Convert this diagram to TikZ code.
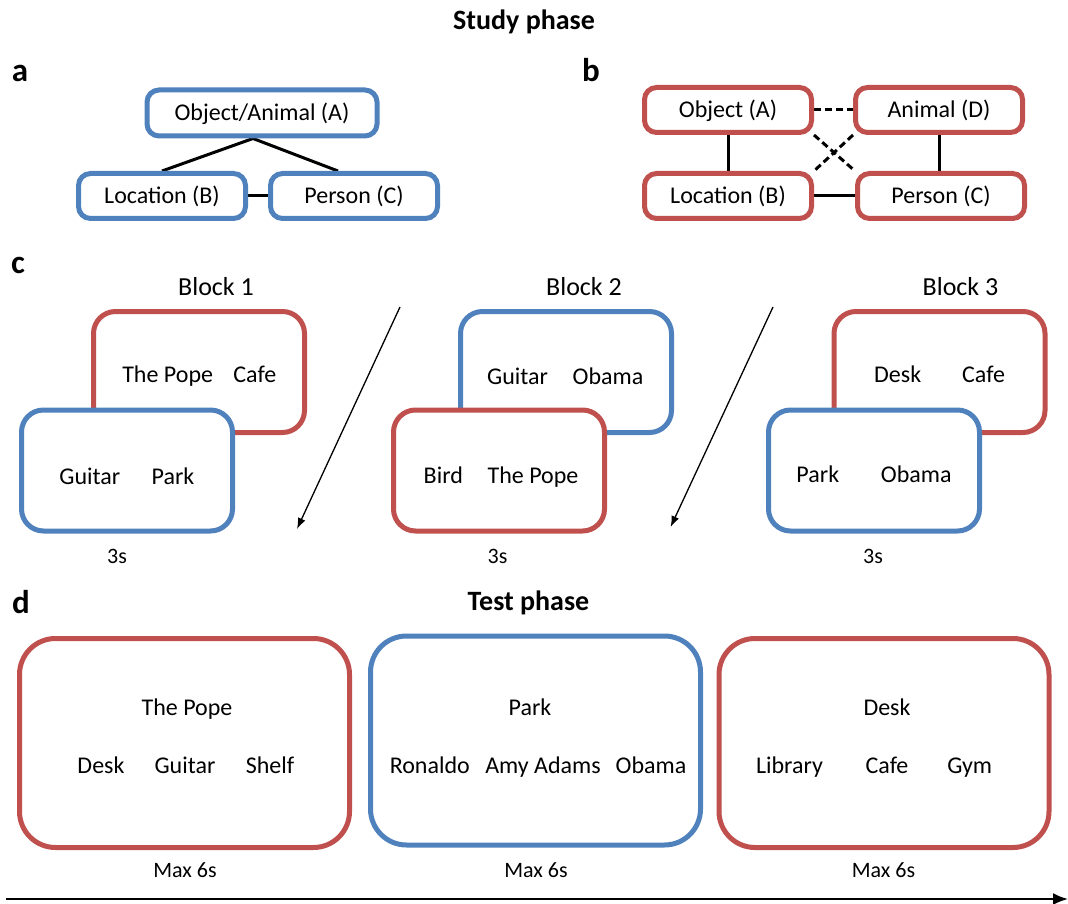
\documentclass[tikz,border=0pt]{standalone}
\usepackage{fontspec}
\setmainfont{Carlito}
\usetikzlibrary{arrows.meta,calc,backgrounds}
\definecolor{oblue}{HTML}{4F81BD}
\definecolor{ored}{HTML}{C0504D}
\tikzset{
  sbox/.style={draw, line width=5pt, rounded corners=12pt, fill=white,
    minimum width=167pt, minimum height=45pt, inner sep=0pt,
    font=\fontsize{24}{28}\selectfont, text height=15pt, text depth=0pt},
  bbox/.style={draw, line width=5pt, rounded corners=22pt, fill=white,
    minimum width=211pt, minimum height=121pt, inner sep=0pt},
  tbox/.style={draw, line width=5pt, rounded corners=36pt, fill=white,
    minimum width=330pt, minimum height=209pt, inner sep=0pt},
  word/.style={font=\fontsize{24}{28}\selectfont, inner sep=0pt, anchor=base},
  small/.style={font=\fontsize{22}{25}\selectfont, inner sep=0pt, anchor=base},
  blocklabel/.style={font=\fontsize{26}{30}\selectfont, inner sep=0pt, anchor=base},
  title/.style={font=\bfseries\fontsize{28}{32}\selectfont, inner sep=0pt, anchor=base},
  letter/.style={font=\bfseries\fontsize{33}{36}\selectfont, inner sep=0pt, anchor=base},
  link/.style={line width=3pt},
  dlink/.style={line width=3pt, dash pattern=on 7pt off 4pt},
  thinarrow/.style={line width=1.3pt, -{Latex[length=11pt,width=8pt]}},
  timearrow/.style={line width=2pt, -{Latex[length=15pt,width=12pt]}}
}
\begin{document}
\begin{tikzpicture}[x=1pt,y=-1pt]
\useasboundingbox (0,0) rectangle (1068,904);

% titles and panel letters
\node[title] (study) at (524,29.3) {Study phase};
\node[title] (test) at (528.5,610.7) {Test phase};
\node[letter] (la) at (20,82) {a};
\node[letter] (lb) at (591,81.7) {b};
\node[letter] (lc) at (18,273) {c};
\node[letter] (ld) at (21,613) {d};

% panel a
\node[sbox, draw=oblue, minimum width=230pt, minimum height=46pt] (aA) at (262,113) {Object/Animal (A)};
\node[sbox, draw=oblue] (aB) at (162,196) {Location (B)};
\node[sbox, draw=oblue] (aC) at (354,196) {Person (C)};

% panel b
\node[sbox, draw=ored] (bA) at (728,110) {Object (A)};
\node[sbox, draw=ored] (bD) at (939,110) {Animal (D)};
\node[sbox, draw=ored] (bB) at (728,196) {Location (B)};
\node[sbox, draw=ored] (bC) at (941,196) {Person (C)};

\begin{scope}[on background layer]
\draw[link] ($(aA.south)+(-9,0)$) -- (aB.north);
\draw[link] ($(aA.south)+(-9,0)$) -- ($(aC.north)+(-16,0)$);
\draw[link] (aB.east) -- (aC.west);
\draw[dlink] (bA.east) -- (bD.west);
\draw[link] (bA.south) -- (bB.north);
\draw[link] (bD.south) -- (bD.south |- bC.north);
\draw[link] (bB.east) -- (bC.west);
\draw[dlink] (bA.south east) -- (bC.north west);
\draw[dlink] (bD.south west) -- (bB.north east);
\end{scope}

% panel c
\node[blocklabel] (c1lab) at (216,295.3) {Block 1};
\node[blocklabel] (c2lab) at (584,295.3) {Block 2};
\node[blocklabel] (c3lab) at (960.5,295.3) {Block 3};

\node[bbox, draw=ored] (c1back) at (199,372) {};
\node[bbox, draw=oblue] (c1front) at (127,470.5) {};
\node[bbox, draw=oblue] (c2back) at (566,372) {};
\node[bbox, draw=ored] (c2front) at (499,470.5) {};
\node[bbox, draw=ored] (c3back) at (939.5,372) {};
\node[bbox, draw=oblue] (c3front) at (874,470.5) {};

\node[word] (c1a) at (167.7,382.3) {The Pope};
\node[word] (c1b) at (254.8,382.3) {Cafe};
\node[word] (c1c) at (89.9,484) {Guitar};
\node[word] (c1d) at (173,484) {Park};
\node[word] (c2a) at (517.6,384) {Guitar};
\node[word] (c2b) at (608,384) {Obama};
\node[word] (c2c) at (443.3,483.5) {Bird};
\node[word] (c2d) at (533,483.5) {The Pope};
\node[word] (c3a) at (897.7,382.3) {Desk};
\node[word] (c3b) at (983.6,382.3) {Cafe};
\node[word] (c3c) at (817.8,482.5) {Park};
\node[word] (c3d) at (916.3,482.5) {Obama};

\node[small] (t1) at (117,563) {3s};
\node[small] (t2) at (497.6,563) {3s};
\node[small] (t3) at (873,563) {3s};

\coordinate (ar1s) at (400,307);
\coordinate (ar1e) at (297,529);
\coordinate (ar2s) at (773,307);
\coordinate (ar2e) at (670.6,527);
\draw[thinarrow] (ar1s) -- (ar1e);
\draw[thinarrow] (ar2s) -- (ar2e);

% panel d
\node[tbox, draw=ored] (d1) at (184.5,743) {};
\node[tbox, draw=oblue] (d2) at (535.5,740.5) {};
\node[tbox, draw=ored] (d3) at (884,743) {};

\node[word] (d1a) at (187,715) {The Pope};
\node[word] (d1b) at (101,773.3) {Desk};
\node[word] (d1c) at (185,773.3) {Guitar};
\node[word] (d1d) at (270,773.3) {Shelf};
\node[word] (d2a) at (530,715) {Park};
\node[word] (d2b) at (429.8,773.3) {Ronaldo};
\node[word] (d2c) at (543,773.3) {Amy Adams};
\node[word] (d2d) at (651,773.3) {Obama};
\node[word] (d3a) at (887,715) {Desk};
\node[word] (d3b) at (789.5,773.3) {Library};
\node[word] (d3c) at (887,773.3) {Cafe};
\node[word] (d3d) at (969.7,773.3) {Gym};

\node[small] (m1) at (185,877.7) {Max 6s};
\node[small] (m2) at (536,877.7) {Max 6s};
\node[small] (m3) at (883.5,877.7) {Max 6s};

\coordinate (tls) at (6,899);
\coordinate (tle) at (1068,899);
\draw[timearrow] (tls) -- (tle);
\end{tikzpicture}
\end{document}
